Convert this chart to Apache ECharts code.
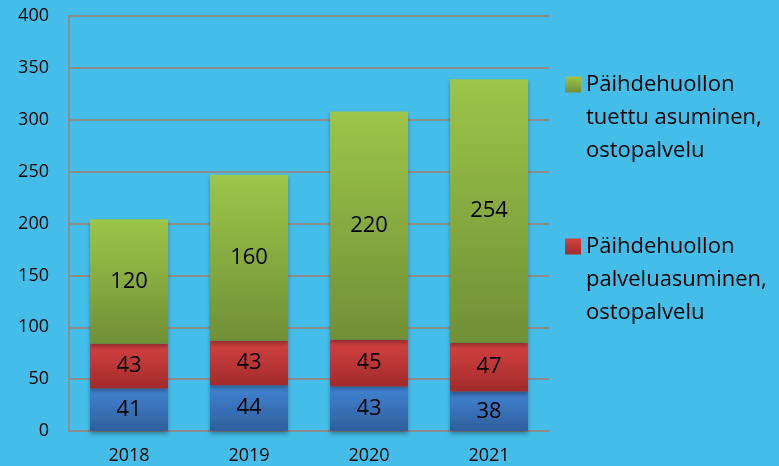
<!DOCTYPE html>
<html>
<head>
<meta charset="utf-8">
<script src="https://cdn.jsdelivr.net/npm/echarts@6/dist/echarts.min.js"></script>
<style>
  html, body { margin: 0; padding: 0; background: #45bde9; }
  #chart { width: 779px; height: 466px; }
</style>
</head>
<body>
<div id="chart"></div>
<script>
const years = ['2018', '2019', '2020', '2021'];
const omaToiminta = [41, 44, 43, 38];
const palveluasuminen = [43, 43, 45, 47];
const tuettuAsuminen = [120, 160, 220, 254];
const yTicks = { min: 0, max: 400, interval: 50 };

const FONT = '"Open Sans", Lato, sans-serif';

function grad(top, bottom) {
  return new echarts.graphic.LinearGradient(0, 0, 0, 1, [
    { offset: 0, color: top },
    { offset: 1, color: bottom }
  ]);
}

function bar(name, data, top, bottom) {
  return {
    name: name,
    type: 'bar',
    stack: 'total',
    barWidth: '65%',
    data: data,
    itemStyle: {
      color: grad(top, bottom),
      shadowBlur: 4,
      shadowOffsetY: 3,
      shadowColor: 'rgba(0,0,0,0.3)'
    },
    label: {
      show: true,
      position: 'inside',
      color: '#000',
      fontSize: 22,
      fontFamily: FONT
    }
  };
}

let myChart = echarts.init(document.getElementById('chart'));
myChart.setOption({
  backgroundColor: '#45bde9',
  animation: false,
  grid: { left: 69, right: 230, top: 16, bottom: 35 },
  xAxis: {
    type: 'category',
    data: years,
    axisLine: { lineStyle: { color: '#8c8c8c', width: 2 } },
    axisTick: { show: false },
    axisLabel: { color: '#000', fontSize: 18, fontFamily: FONT, margin: 16 }
  },
  yAxis: {
    type: 'value',
    min: yTicks.min,
    max: yTicks.max,
    interval: yTicks.interval,
    axisLine: { show: true, lineStyle: { color: '#8c8c8c', width: 2 } },
    axisTick: { show: false },
    splitLine: { lineStyle: { color: '#8c8c8c', width: 2 } },
    axisLabel: { color: '#000', fontSize: 18, fontFamily: FONT, margin: 20 }
  },
  legend: {
    orient: 'vertical',
    left: 560,
    top: -3,
    itemGap: -3,
    itemWidth: 16,
    itemHeight: 16,
    icon: 'rect',
    data: ['Päihdehuollon tuettu asuminen, ostopalvelu', 'Päihdehuollon palveluasuminen, ostopalvelu'],
    formatter: function (name) {
      // two empty lines first so the icon sits beside the first text line
      return '\n\n' + name.replace(' tuettu', '\ntuettu').replace(' palveluasuminen', '\npalveluasuminen').replace(', ', ',\n');
    },
    textStyle: {
      color: '#000',
      fontSize: 22,
      lineHeight: 33,
      fontFamily: FONT
    }
  },
  series: [
    bar('Päihdehuollon asumispalvelu, oma toiminta', omaToiminta, '#4283d3', '#2f5f9c'),
    bar('Päihdehuollon palveluasuminen, ostopalvelu', palveluasuminen, '#d44141', '#a22b2b'),
    bar('Päihdehuollon tuettu asuminen, ostopalvelu', tuettuAsuminen, '#9cc54a', '#718f36')
  ]
});
</script>
</body>
</html>
